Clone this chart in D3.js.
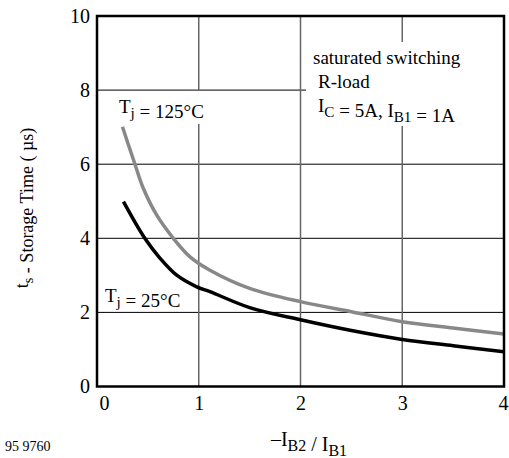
<!DOCTYPE html>
<html><head><meta charset="utf-8">
<script src="https://cdn.jsdelivr.net/npm/d3@7"></script>
</head>
<body style="margin:0;background:#fff"><svg id="c" width="509" height="458"></svg>
<script>
// data
const xTicks = [0, 1, 2, 3, 4];
const yTicks = [0, 2, 4, 6, 8, 10];
const ratio125 = [0.25, 0.373, 0.455, 0.586, 0.75, 0.914, 1.11, 1.5, 2.0, 2.5, 3.0, 3.5, 4.0];
const ts125    = [7.01, 6.0, 5.35, 4.63, 4.0, 3.5, 3.14, 2.65, 2.29, 2.02, 1.75, 1.58, 1.42];
const ratio25  = [0.26, 0.47, 0.62, 0.78, 0.98, 1.11, 1.5, 2.0, 2.5, 3.0, 3.5, 4.0];
const ts25     = [4.99, 4.0, 3.46, 3.01, 2.69, 2.56, 2.13, 1.80, 1.51, 1.27, 1.10, 0.94];

const FONT = "Liberation Serif";
const svg = d3.select("#c");
const L = 97, R = 504, T = 16, B = 386.5;
const x = d3.scaleLinear().domain([0, 4]).range([L, R]);
const y = d3.scaleLinear().domain([0, 10]).range([B, T]);

// grid
svg.append("g").selectAll("line").data(yTicks.filter(d => d > 0 && d < 10)).join("line")
  .attr("x1", L).attr("x2", R).attr("y1", d => y(d)).attr("y2", d => y(d))
  .attr("stroke", "#000").attr("stroke-width", 1);
svg.append("g").selectAll("line").data(xTicks.filter(d => d > 0 && d < 4)).join("line")
  .attr("x1", d => x(d)).attr("x2", d => x(d)).attr("y1", T).attr("y2", B)
  .attr("stroke", "#666").attr("stroke-width", 1.5);

// white boxes behind labels
svg.append("rect").attr("x", 306).attr("y", 42).attr("width", R - 306).attr("height", 84).attr("fill", "#fff");
svg.append("rect").attr("x", 115).attr("y", 91).attr("width", 100).attr("height", 33).attr("fill", "#fff");

// curves
const line = d3.line().x(d => x(d[0])).y(d => y(d[1])).curve(d3.curveCatmullRom.alpha(0.5));
svg.append("path").datum(ratio125.map((r, i) => [r, ts125[i]])).attr("d", line)
  .attr("fill", "none").attr("stroke", "#888").attr("stroke-width", 3.5);
svg.append("path").datum(ratio25.map((r, i) => [r, ts25[i]])).attr("d", line)
  .attr("fill", "none").attr("stroke", "#000").attr("stroke-width", 3.5);

// frame
svg.append("rect").attr("x", L).attr("y", T).attr("width", R - L).attr("height", B - T)
  .attr("fill", "none").attr("stroke", "#000").attr("stroke-width", 2.5);

// axes (text only)
const yAxis = d3.axisLeft(y).tickValues(yTicks).tickFormat(d3.format("d")).tickSize(0).tickPadding(7);
const gy = svg.append("g").attr("transform", `translate(${L},0)`).call(yAxis);
gy.select(".domain").remove();
gy.attr("font-size", 20);
gy.selectAll("text").attr("fill", "#000");

const xAxis = d3.axisBottom(x).tickValues(xTicks).tickFormat(d3.format("d")).tickSize(0).tickPadding(9);
const gx = svg.append("g").attr("transform", `translate(0,${B})`).call(xAxis);
gx.select(".domain").remove();
gx.attr("font-size", 20);
gx.selectAll("text").attr("fill", "#000")
  .attr("dx", d => d === 0 ? 7 : (d === 4 ? -1 : 0));

// labels
function sub(t, parts, size) {
  parts.forEach(p => {
    if (p.s) {
      t.append("tspan").attr("dy", 5).attr("font-size", size * 0.8).text(p.s);
      t.append("tspan").attr("dy", -5).text("");
    } else t.append("tspan").text(p.t);
  });
}
const t1 = svg.append("text").attr("x", 119).attr("y", 113).attr("font-size", 19);
sub(t1, [{t: "T"}, {s: "j"}, {t: " = 125°C"}], 19);
const t2 = svg.append("text").attr("x", 105).attr("y", 302).attr("font-size", 19);
sub(t2, [{t: "T"}, {s: "j"}, {t: " = 25°C"}], 19);

svg.append("text").attr("x", 313).attr("y", 64).attr("font-size", 19).text("saturated switching");
svg.append("text").attr("x", 318).attr("y", 88).attr("font-size", 19).text("R-load");
const t3 = svg.append("text").attr("x", 318).attr("y", 112).attr("font-size", 19);
sub(t3, [{t: "I"}, {s: "C"}, {t: " = 5A, I"}, {s: "B1"}, {t: " = 1A"}], 19);

const t4 = svg.append("text").attr("x", 309).attr("y", 446).attr("font-size", 20).attr("text-anchor", "middle");
sub(t4, [{t: "–I"}, {s: "B2"}, {t: " / I"}, {s: "B1"}], 20);

svg.append("text").attr("x", 5).attr("y", 451).attr("font-size", 14).text("95 9760");

const t5 = svg.append("text").attr("transform", "translate(28,208) rotate(-90)")
  .attr("font-size", 18).attr("text-anchor", "middle");
sub(t5, [{t: "t"}, {s: "s"}, {t: " - Storage Time ( µs)"}], 18);

svg.selectAll("text").attr("font-family", FONT);
</script></body></html>
